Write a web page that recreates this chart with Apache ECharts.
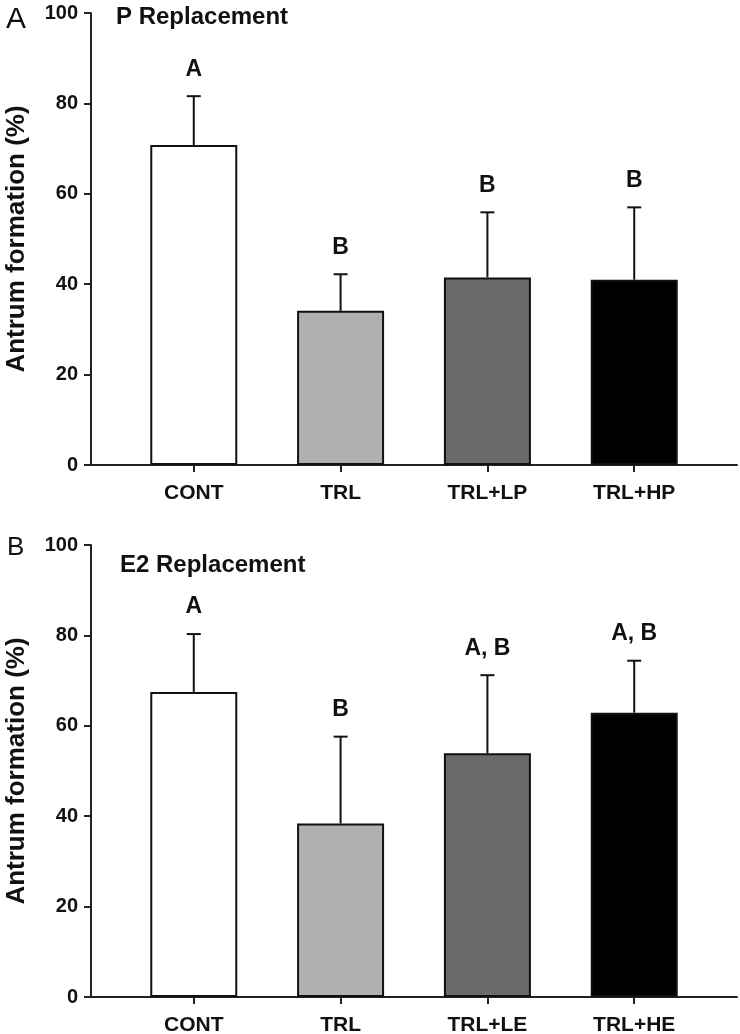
<!DOCTYPE html>
<html><head><meta charset="utf-8">
<script src="https://cdn.jsdelivr.net/npm/echarts@6/dist/echarts.min.js"></script>
<style>html,body{margin:0;padding:0;background:#fff}#c{width:740px;height:1034px}</style>
</head><body><div id="c"></div>
<script>
const categoriesA = ['CONT', 'TRL', 'TRL+LP', 'TRL+HP'];
const meansA = [70.8, 34.1, 41.5, 41.0];
const upperA = [81.6, 42.2, 55.9, 57.0];
const lettersA = ['A', 'B', 'B', 'B'];

const categoriesB = ['CONT', 'TRL', 'TRL+LE', 'TRL+HE'];
const meansB = [67.5, 38.4, 53.9, 62.9];
const upperB = [80.3, 57.6, 71.2, 74.4];
const lettersB = ['A', 'B', 'A, B', 'A, B'];

const barColors = ['#ffffff', '#b0b0b0', '#6a6a6a', '#000000'];
const catIndex = [0, 1, 2, 3];

const FONT = '"Liberation Sans", Arial, Helvetica, sans-serif';
const INK = '#111';
const AX = '#222';

function errRender(letters) {
  return function (params, api) {
    const x = api.value(0), m = api.value(1), u = api.value(2);
    const pm = api.coord([x, m]), pu = api.coord([x, u]);
    const cap = 7;
    return {
      type: 'group',
      children: [
        { type: 'line', shape: { x1: pm[0], y1: pm[1], x2: pu[0], y2: pu[1] }, style: { stroke: INK, lineWidth: 2 } },
        { type: 'line', shape: { x1: pu[0] - cap, y1: pu[1], x2: pu[0] + cap, y2: pu[1] }, style: { stroke: INK, lineWidth: 2 } },
        { type: 'text', x: pu[0], y: pu[1] - 27, style: { text: letters[params.dataIndex], fill: INK, fontSize: 23, fontWeight: 'bold', fontFamily: FONT, align: 'center', verticalAlign: 'middle' } }
      ]
    };
  };
}

function xAxisFor(gi, cats) {
  return {
    type: 'value', gridIndex: gi, min: -0.7, max: 3.7,
    splitLine: { show: false },
    axisLine: { show: true, onZero: false, lineStyle: { color: AX, width: 2 } },
    axisTick: { show: true, customValues: catIndex, length: 7, lineStyle: { color: AX, width: 2 } },
    axisLabel: { customValues: catIndex, formatter: v => cats[Math.round(v)], fontSize: 21, fontWeight: 'bold', color: INK, fontFamily: FONT, margin: 18 }
  };
}
function yAxisFor(gi) {
  return {
    type: 'value', gridIndex: gi, min: 0, max: 100, interval: 20,
    name: 'Antrum formation (%)', nameLocation: 'middle', nameRotate: 90, nameGap: 61,
    nameTextStyle: { fontSize: 26, fontWeight: 'bold', color: INK, fontFamily: FONT },
    splitLine: { show: false },
    axisLine: { show: true, onZero: false, lineStyle: { color: AX, width: 2 } },
    axisTick: { show: true, inside: false, length: 7, lineStyle: { color: AX, width: 2 } },
    axisLabel: { fontSize: 20, fontWeight: 'bold', color: INK, fontFamily: FONT, margin: 13 }
  };
}
function barSeries(gi, means) {
  return {
    type: 'bar', xAxisIndex: gi, yAxisIndex: gi, barWidth: 87,
    data: means.map((v, i) => ({ value: [i, v], itemStyle: { color: barColors[i] } })),
    itemStyle: { borderColor: INK, borderWidth: 2 },
    emphasis: { disabled: true }, silent: true, animation: false
  };
}
function errSeries(gi, means, upper, letters) {
  return {
    type: 'custom', xAxisIndex: gi, yAxisIndex: gi, z: 5,
    data: means.map((v, i) => [i, v, upper[i]]),
    renderItem: errRender(letters), silent: true, animation: false
  };
}

const chart = echarts.init(document.getElementById('c'), null, { renderer: 'canvas' });
chart.setOption({
  animation: false,
  backgroundColor: '#fff',
  title: [
    { text: 'A', left: 1, top: 0, textStyle: { fontSize: 30, fontWeight: 'normal', color: INK, fontFamily: FONT } },
    { text: 'P Replacement', left: 111, top: 0, textStyle: { fontSize: 24, fontWeight: 'bold', color: INK, fontFamily: FONT } },
    { text: 'B', left: 2, top: 530, textStyle: { fontSize: 26, fontWeight: 'normal', color: INK, fontFamily: FONT } },
    { text: 'E2 Replacement', left: 115, top: 548, textStyle: { fontSize: 24, fontWeight: 'bold', color: INK, fontFamily: FONT } }
  ],
  grid: [
    { left: 91, top: 13, width: 646, height: 452, outerBoundsMode: 'none', containLabel: false },
    { left: 91, top: 545, width: 646, height: 452, outerBoundsMode: 'none', containLabel: false }
  ],
  xAxis: [xAxisFor(0, categoriesA), xAxisFor(1, categoriesB)],
  yAxis: [yAxisFor(0), yAxisFor(1)],
  series: [
    barSeries(0, meansA), errSeries(0, meansA, upperA, lettersA),
    barSeries(1, meansB), errSeries(1, meansB, upperB, lettersB)
  ]
});
</script></body></html>
